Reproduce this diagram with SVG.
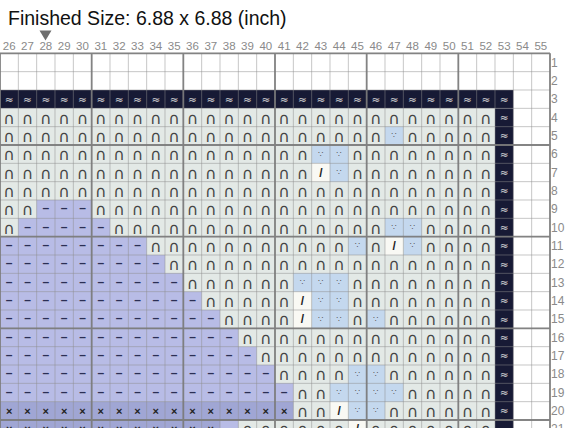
<svg xmlns="http://www.w3.org/2000/svg" width="570" height="428" viewBox="0 0 570 428">
<style>
.lbl{font-family:"Liberation Sans",Arial,sans-serif}
.title{font-size:19.5px;fill:#111}
.cl{font-size:11.5px;fill:#8a8a8a;text-anchor:middle}
.rl{font-size:12px;fill:#8a8a8a}
.arch{font-family:"DejaVu Sans",sans-serif;font-size:16px;fill:#444;text-anchor:middle}
.dash{font-family:"Liberation Sans",Arial,sans-serif;font-weight:bold;font-size:12px;fill:#2b2f55;text-anchor:middle}
.cross{font-family:"Liberation Sans",Arial,sans-serif;font-weight:bold;font-size:11px;fill:#222;text-anchor:middle}
.dots{font-family:"DejaVu Sans",sans-serif;font-size:8px;fill:#555;text-anchor:middle}
.slash{font-family:"Liberation Sans",Arial,sans-serif;font-weight:bold;font-size:12px;fill:#222;text-anchor:middle}
.wave{font-family:"DejaVu Sans",sans-serif;font-size:10.5px;fill:#dcdcdc;text-anchor:middle}
.light{fill:#e3e9e6}
.lav{fill:#b8bce6}
.dlav{fill:#a0a6d4}
.blue{fill:#c4d8ee}
.wht{fill:#f9f9f4}
.navy{fill:#171a35}
.thin{fill:none;stroke:#8c8c8c;stroke-opacity:0.5;stroke-width:1}
.thick{fill:none;stroke:#7a7a7a;stroke-opacity:0.9;stroke-width:1.8}
</style>
<rect width="570" height="428" fill="#ffffff"/>
<text class="lbl title" x="8" y="25">Finished Size: 6.88 x 6.88 (inch)</text>
<polygon points="39.5,30.5 51.5,30.5 45.5,40.5" fill="#6e6e6e"/>
<g id="col-labels" class="lbl cl">
<text x="9.17" y="50">26</text><text x="27.5" y="50">27</text><text x="45.83" y="50">28</text><text x="64.17" y="50">29</text><text x="82.5" y="50">30</text><text x="100.83" y="50">31</text><text x="119.17" y="50">32</text><text x="137.5" y="50">33</text><text x="155.83" y="50">34</text><text x="174.17" y="50">35</text><text x="192.5" y="50">36</text><text x="210.83" y="50">37</text><text x="229.17" y="50">38</text><text x="247.5" y="50">39</text><text x="265.83" y="50">40</text><text x="284.17" y="50">41</text><text x="302.5" y="50">42</text><text x="320.83" y="50">43</text><text x="339.17" y="50">44</text><text x="357.5" y="50">45</text><text x="375.83" y="50">46</text><text x="394.17" y="50">47</text><text x="412.5" y="50">48</text><text x="430.83" y="50">49</text><text x="449.17" y="50">50</text><text x="467.5" y="50">51</text><text x="485.83" y="50">52</text><text x="504.17" y="50">53</text><text x="522.5" y="50">54</text><text x="540.83" y="50">55</text>
</g>
<g id="row-labels" class="lbl rl" transform="translate(0 4.3)">
<text x="551" y="62.5">1</text><text x="551" y="80.83">2</text><text x="551" y="99.17">3</text><text x="551" y="117.5">4</text><text x="551" y="135.83">5</text><text x="551" y="154.17">6</text><text x="551" y="172.5">7</text><text x="551" y="190.83">8</text><text x="551" y="209.17">9</text><text x="551" y="227.5">10</text><text x="551" y="245.83">11</text><text x="551" y="264.17">12</text><text x="551" y="282.5">13</text><text x="551" y="300.83">14</text><text x="551" y="319.17">15</text><text x="551" y="337.5">16</text><text x="551" y="355.83">17</text><text x="551" y="374.17">18</text><text x="551" y="392.5">19</text><text x="551" y="410.83">20</text><text x="551" y="429.17">21</text>
</g>
<g id="cells" transform="translate(0 53.333) scale(1.833333)">
<rect class="navy" x="0" y="20" width="280" height="10"/>
<rect class="navy" x="270" y="30" width="10" height="180"/>
<rect class="light" x="0" y="30" width="270" height="180"/>
<polygon class="lav" points="20,80 50,80 50,90 60,90 60,100 80,100 80,110 90,110 90,120 100,120 100,130 110,130 110,140 120,140 120,150 130,150 130,160 140,160 140,170 150,170 150,180 160,180 160,190 0,190 0,100 10,100 10,90 20,90"/>
<rect class="dlav" x="0" y="190" width="160" height="10"/>
<rect class="dlav" x="0" y="200" width="120" height="10"/>
<rect class="lav" x="120" y="200" width="10" height="10"/>
<path class="blue" d="M210 40h10v10h-10zM170 50h10v10h-10zM180 50h10v10h-10zM180 60h10v10h-10zM210 90h10v10h-10zM220 90h10v10h-10zM190 100h10v10h-10zM220 100h10v10h-10zM160 120h10v10h-10zM170 120h10v10h-10zM180 120h10v10h-10zM170 130h10v10h-10zM180 130h10v10h-10zM170 140h10v10h-10zM180 140h10v10h-10zM200 140h10v10h-10zM190 170h10v10h-10zM200 170h10v10h-10zM180 180h10v10h-10zM190 180h10v10h-10zM200 180h10v10h-10zM210 180h10v10h-10zM190 190h10v10h-10zM200 190h10v10h-10z"/>
<path class="wht" d="M170 60h10v10h-10zM210 100h10v10h-10zM160 130h10v10h-10zM160 140h10v10h-10zM180 190h10v10h-10zM190 200h10v10h-10z"/>
<path class="thin" vector-effect="non-scaling-stroke" d="M0 0V210M10 0V210M20 0V210M30 0V210M40 0V210M50 0V210M60 0V210M70 0V210M80 0V210M90 0V210M100 0V210M110 0V210M120 0V210M130 0V210M140 0V210M150 0V210M160 0V210M170 0V210M180 0V210M190 0V210M200 0V210M210 0V210M220 0V210M230 0V210M240 0V210M250 0V210M260 0V210M270 0V210M280 0V210M290 0V210M300 0V210M0 0H300M0 10H300M0 20H300M0 30H300M0 40H300M0 50H300M0 60H300M0 70H300M0 80H300M0 90H300M0 100H300M0 110H300M0 120H300M0 130H300M0 140H300M0 150H300M0 160H300M0 170H300M0 180H300M0 190H300M0 200H300"/>
<path class="thick" vector-effect="non-scaling-stroke" d="M0 0V210M50 0V210M100 0V210M150 0V210M200 0V210M250 0V210M300 0V210M0 0H300M0 50H300M0 100H300M0 150H300M0 200H300"/>
</g>
<g id="symbols-arch" class="arch" transform="translate(0 6)">
<text y="117.5" x="9.17 27.5 45.83 64.17 82.5 100.83 119.17 137.5 155.83 174.17 192.5 210.83 229.17 247.5 265.83 284.17 302.5 320.83 339.17 357.5 375.83 394.17 412.5 430.83 449.17 467.5 485.83">∩∩∩∩∩∩∩∩∩∩∩∩∩∩∩∩∩∩∩∩∩∩∩∩∩∩∩</text>
<text y="135.83" x="9.17 27.5 45.83 64.17 82.5 100.83 119.17 137.5 155.83 174.17 192.5 210.83 229.17 247.5 265.83 284.17 302.5 320.83 339.17 357.5 375.83 412.5 430.83 449.17 467.5 485.83">∩∩∩∩∩∩∩∩∩∩∩∩∩∩∩∩∩∩∩∩∩∩∩∩∩∩</text>
<text y="154.17" x="9.17 27.5 45.83 64.17 82.5 100.83 119.17 137.5 155.83 174.17 192.5 210.83 229.17 247.5 265.83 284.17 302.5 357.5 375.83 394.17 412.5 430.83 449.17 467.5 485.83">∩∩∩∩∩∩∩∩∩∩∩∩∩∩∩∩∩∩∩∩∩∩∩∩∩</text>
<text y="172.5" x="9.17 27.5 45.83 64.17 82.5 100.83 119.17 137.5 155.83 174.17 192.5 210.83 229.17 247.5 265.83 284.17 302.5 357.5 375.83 394.17 412.5 430.83 449.17 467.5 485.83">∩∩∩∩∩∩∩∩∩∩∩∩∩∩∩∩∩∩∩∩∩∩∩∩∩</text>
<text y="190.83" x="9.17 27.5 45.83 64.17 82.5 100.83 119.17 137.5 155.83 174.17 192.5 210.83 229.17 247.5 265.83 284.17 302.5 320.83 339.17 357.5 375.83 394.17 412.5 430.83 449.17 467.5 485.83">∩∩∩∩∩∩∩∩∩∩∩∩∩∩∩∩∩∩∩∩∩∩∩∩∩∩∩</text>
<text y="209.17" x="9.17 27.5 100.83 119.17 137.5 155.83 174.17 192.5 210.83 229.17 247.5 265.83 284.17 302.5 320.83 339.17 357.5 375.83 394.17 412.5 430.83 449.17 467.5 485.83">∩∩∩∩∩∩∩∩∩∩∩∩∩∩∩∩∩∩∩∩∩∩∩∩</text>
<text y="227.5" x="9.17 119.17 137.5 155.83 174.17 192.5 210.83 229.17 247.5 265.83 284.17 302.5 320.83 339.17 357.5 375.83 430.83 449.17 467.5 485.83">∩∩∩∩∩∩∩∩∩∩∩∩∩∩∩∩∩∩∩∩</text>
<text y="245.83" x="155.83 174.17 192.5 210.83 229.17 247.5 265.83 284.17 302.5 320.83 339.17 375.83 430.83 449.17 467.5 485.83">∩∩∩∩∩∩∩∩∩∩∩∩∩∩∩∩</text>
<text y="264.17" x="174.17 192.5 210.83 229.17 247.5 265.83 284.17 302.5 320.83 339.17 357.5 375.83 394.17 412.5 430.83 449.17 467.5 485.83">∩∩∩∩∩∩∩∩∩∩∩∩∩∩∩∩∩∩</text>
<text y="282.5" x="192.5 210.83 229.17 247.5 265.83 284.17 357.5 375.83 394.17 412.5 430.83 449.17 467.5 485.83">∩∩∩∩∩∩∩∩∩∩∩∩∩∩</text>
<text y="300.83" x="210.83 229.17 247.5 265.83 284.17 357.5 375.83 394.17 412.5 430.83 449.17 467.5 485.83">∩∩∩∩∩∩∩∩∩∩∩∩∩</text>
<text y="319.17" x="229.17 247.5 265.83 284.17 357.5 394.17 412.5 430.83 449.17 467.5 485.83">∩∩∩∩∩∩∩∩∩∩∩</text>
<text y="337.5" x="247.5 265.83 284.17 302.5 320.83 339.17 357.5 375.83 394.17 412.5 430.83 449.17 467.5 485.83">∩∩∩∩∩∩∩∩∩∩∩∩∩∩</text>
<text y="355.83" x="265.83 284.17 302.5 320.83 339.17 357.5 375.83 394.17 412.5 430.83 449.17 467.5 485.83">∩∩∩∩∩∩∩∩∩∩∩∩∩</text>
<text y="374.17" x="284.17 302.5 320.83 339.17 394.17 412.5 430.83 449.17 467.5 485.83">∩∩∩∩∩∩∩∩∩∩</text>
<text y="392.5" x="302.5 320.83 412.5 430.83 449.17 467.5 485.83">∩∩∩∩∩∩∩</text>
<text y="410.83" x="302.5 320.83 394.17 412.5 430.83 449.17 467.5 485.83">∩∩∩∩∩∩∩∩</text>
<text y="429.17" x="247.5 265.83 284.17 302.5 320.83 339.17 375.83 394.17 412.5 430.83 449.17 467.5 485.83">∩∩∩∩∩∩∩∩∩∩∩∩∩</text>
</g>
<g id="symbols-dash" class="dash" transform="translate(0 3.2)">
<text y="209.17" x="45.83 64.17 82.5">–––</text>
<text y="227.5" x="27.5 45.83 64.17 82.5 100.83">–––––</text>
<text y="245.83" x="9.17 27.5 45.83 64.17 82.5 100.83 119.17 137.5">––––––––</text>
<text y="264.17" x="9.17 27.5 45.83 64.17 82.5 100.83 119.17 137.5 155.83">–––––––––</text>
<text y="282.5" x="9.17 27.5 45.83 64.17 82.5 100.83 119.17 137.5 155.83 174.17">––––––––––</text>
<text y="300.83" x="9.17 27.5 45.83 64.17 82.5 100.83 119.17 137.5 155.83 174.17 192.5">–––––––––––</text>
<text y="319.17" x="9.17 27.5 45.83 64.17 82.5 100.83 119.17 137.5 155.83 174.17 192.5 210.83">––––––––––––</text>
<text y="337.5" x="9.17 27.5 45.83 64.17 82.5 100.83 119.17 137.5 155.83 174.17 192.5 210.83 229.17">–––––––––––––</text>
<text y="355.83" x="9.17 27.5 45.83 64.17 82.5 100.83 119.17 137.5 155.83 174.17 192.5 210.83 229.17 247.5">––––––––––––––</text>
<text y="374.17" x="9.17 27.5 45.83 64.17 82.5 100.83 119.17 137.5 155.83 174.17 192.5 210.83 229.17 247.5 265.83">–––––––––––––––</text>
<text y="392.5" x="9.17 27.5 45.83 64.17 82.5 100.83 119.17 137.5 155.83 174.17 192.5 210.83 229.17 247.5 265.83 284.17">––––––––––––––––</text>
</g>
<g id="symbols-cross" class="cross" transform="translate(0 3.7)">
<text y="410.83" x="9.17 27.5 45.83 64.17 82.5 100.83 119.17 137.5 155.83 174.17 192.5 210.83 229.17 247.5 265.83 284.17">××××××××××××××××</text>
<text y="429.17" x="9.17 27.5 45.83 64.17 82.5 100.83 119.17 137.5 155.83 174.17 192.5 210.83">××××××××××××</text>
</g>
<g id="symbols-dots" class="dots" transform="translate(0 2.4)">
<text x="394.17 320.83 339.17 339.17 394.17 412.5 357.5 412.5 302.5 320.83 339.17 320.83 339.17 320.83 339.17 375.83 357.5 375.83 339.17 357.5 375.83 394.17 357.5 375.83" y="135.83 154.17 154.17 172.5 227.5 227.5 245.83 245.83 282.5 282.5 282.5 300.83 300.83 319.17 319.17 319.17 374.17 374.17 392.5 392.5 392.5 392.5 410.83 410.83">∵∵∵∵∵∵∵∵∵∵∵∵∵∵∵∵∵∵∵∵∵∵∵∵</text>
</g>
<g id="symbols-slash" class="slash" transform="translate(0 4.3)">
<text x="320.83 394.17 302.5 302.5 339.17 357.5" y="172.5 245.83 300.83 319.17 410.83 429.17">//////</text>
</g>
<g id="symbols-wave" class="wave" transform="translate(0 3.4)">
<text y="99.17" x="9.17 27.5 45.83 64.17 82.5 100.83 119.17 137.5 155.83 174.17 192.5 210.83 229.17 247.5 265.83 284.17 302.5 320.83 339.17 357.5 375.83 394.17 412.5 430.83 449.17 467.5 485.83 504.17">≈≈≈≈≈≈≈≈≈≈≈≈≈≈≈≈≈≈≈≈≈≈≈≈≈≈≈≈</text>
<text x="504.17 504.17 504.17 504.17 504.17 504.17 504.17 504.17 504.17 504.17 504.17 504.17 504.17 504.17 504.17 504.17 504.17 504.17" y="117.5 135.83 154.17 172.5 190.83 209.17 227.5 245.83 264.17 282.5 300.83 319.17 337.5 355.83 374.17 392.5 410.83 429.17">≈≈≈≈≈≈≈≈≈≈≈≈≈≈≈≈≈≈</text>
</g>
</svg>
